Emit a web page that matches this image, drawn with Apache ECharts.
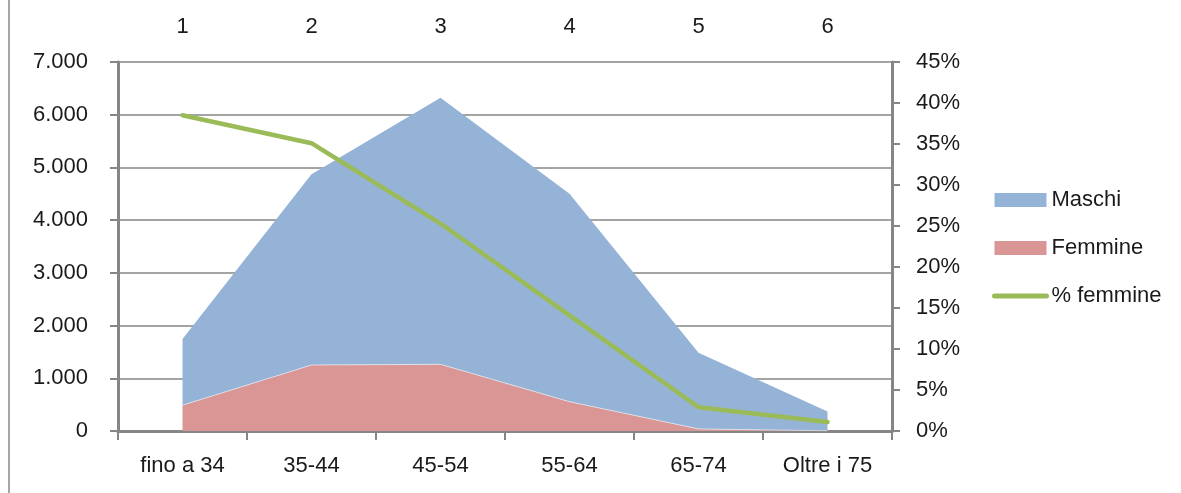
<!DOCTYPE html>
<html>
<head>
<meta charset="utf-8">
<script src="https://cdn.jsdelivr.net/npm/echarts@6/dist/echarts.min.js"></script>
<style>
html,body{margin:0;padding:0;background:#fff;}
#c{width:1181px;height:493px;}
</style>
</head>
<body>
<div id="c"></div>
<script>
const categories = ['fino a 34', '35-44', '45-54', '55-64', '65-74', 'Oltre i 75'];
const topLabels = ['1', '2', '3', '4', '5', '6'];
const femmine = [490, 1252, 1265, 556, 40, 4];
const maschi = [1255, 3618, 5055, 3944, 1446, 366];
const percFemmine = [38.5, 35.1, 25.3, 14.1, 2.9, 1.1];

const FONT = 'Liberation Sans';
const FS = 22;
const TXT = '#1a1a1a';
const AX = '#868686';

const chart = echarts.init(document.getElementById('c'), null, {renderer: 'canvas'});
chart.setOption({
  animation: false,
  backgroundColor: '#fff',
  textStyle: {fontFamily: FONT},
  graphic: [{
    type: 'line', shape: {x1: 9, y1: 0, x2: 9, y2: 493},
    style: {stroke: '#a6a6a6', lineWidth: 2}
  }],
  grid: {left: 118, right: 289, top: 62, bottom: 62, containLabel: false},
  legend: {
    orient: 'vertical', left: 987, top: 184,
    itemWidth: 52, itemHeight: 14, itemGap: 26,
    textStyle: {fontFamily: FONT, fontSize: FS, color: TXT},
    data: [
      {name: 'Maschi', icon: 'rect'},
      {name: 'Femmine', icon: 'rect'},
      {name: '% femmine', itemStyle: {opacity: 0},
       lineStyle: {width: 5, color: '#9BBB59', cap: 'round'}}
    ]
  },
  xAxis: [{
    type: 'category', data: categories, position: 'bottom', boundaryGap: true,
    axisLine: {show: true, lineStyle: {color: AX, width: 3}},
    axisTick: {show: true, length: 9, lineStyle: {color: AX, width: 2}},
    axisLabel: {fontFamily: FONT, fontSize: FS, color: TXT, margin: 24},
    splitLine: {show: false}
  }, {
    type: 'category', data: topLabels, position: 'top', boundaryGap: true,
    axisLine: {show: true, lineStyle: {color: AX, width: 3}},
    axisTick: {show: true, length: 9, lineStyle: {color: AX, width: 2}},
    axisLabel: {fontFamily: FONT, fontSize: FS, color: TXT, margin: 24},
    splitLine: {show: false}
  }],
  yAxis: [{
    type: 'value', min: 0, max: 7000, interval: 1000, position: 'left',
    axisLine: {show: true, lineStyle: {color: AX, width: 3}},
    axisTick: {show: true, length: 8, lineStyle: {color: AX, width: 2}},
    axisLabel: {
      fontFamily: FONT, fontSize: FS, color: TXT, margin: 30,
      formatter: v => v === 0 ? '0' : String(v).replace(/\B(?=(\d{3})+(?!\d))/g, '.')
    },
    splitLine: {show: true, lineStyle: {color: AX, width: 1.5}}
  }, {
    type: 'value', min: 0, max: 45, interval: 5, position: 'right',
    axisLine: {show: true, lineStyle: {color: AX, width: 3}},
    axisTick: {show: true, length: 8, lineStyle: {color: AX, width: 2}},
    axisLabel: {fontFamily: FONT, fontSize: FS, color: TXT, margin: 24, formatter: '{value}%'},
    splitLine: {show: false}
  }],
  series: [{
    name: 'Femmine', type: 'line', stack: 'tot', data: femmine,
    xAxisIndex: 0, yAxisIndex: 0, symbol: 'none',
    lineStyle: {width: 0.8, color: '#e6e6ee'},
    itemStyle: {color: '#D99694'},
    areaStyle: {color: '#D99694', opacity: 1}
  }, {
    name: 'Maschi', type: 'line', stack: 'tot', data: maschi,
    xAxisIndex: 0, yAxisIndex: 0, symbol: 'none',
    lineStyle: {width: 0},
    itemStyle: {color: '#95B3D7'},
    areaStyle: {color: '#95B3D7', opacity: 1}
  }, {
    name: '% femmine', type: 'line', data: percFemmine,
    xAxisIndex: 0, yAxisIndex: 1, symbol: 'none',
    lineStyle: {width: 4.5, color: '#9BBB59', cap: 'round', join: 'round'},
    itemStyle: {color: '#9BBB59'},
    z: 5
  }]
});
</script>
</body>
</html>
